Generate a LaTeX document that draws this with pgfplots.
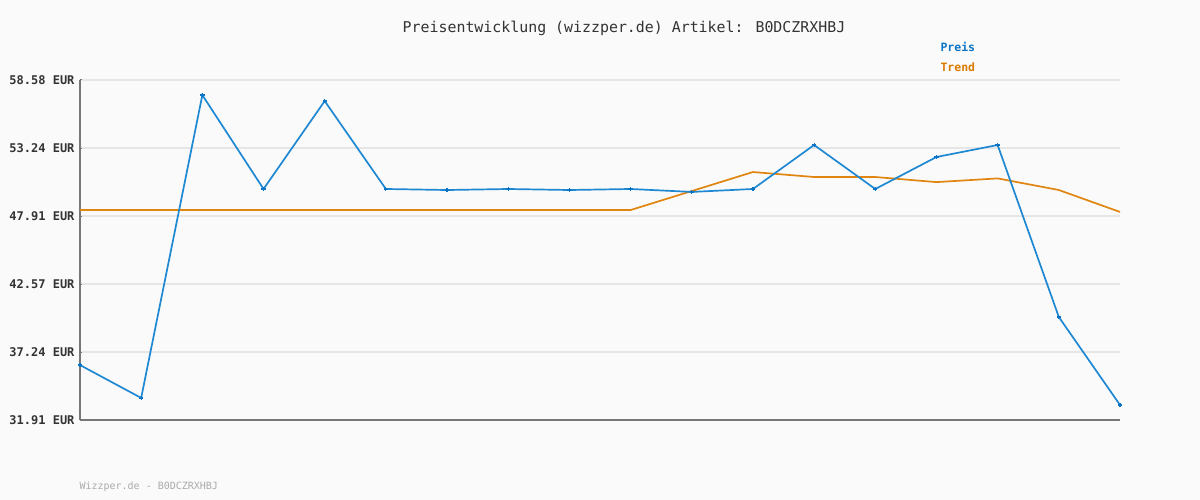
\documentclass[border=0pt]{standalone}
\usepackage{pgfplots}
\pgfplotsset{compat=1.18}
\usepackage{fontspec}
\setmainfont{DejaVu Sans Mono}
\definecolor{bg}{HTML}{FAFAFA}
\definecolor{gridc}{HTML}{E6E6E6}
\definecolor{axisc}{HTML}{777777}
\definecolor{preis}{HTML}{1E88D2}
\definecolor{trend}{HTML}{E0850F}
\definecolor{preisleg}{HTML}{0B74C4}
\definecolor{trendleg}{HTML}{DB7A00}
\definecolor{txt}{HTML}{333333}
\definecolor{foot}{HTML}{AAAAAA}
\begin{document}
\begin{tikzpicture}[x=1pt,y=1pt]
\fill[bg] (0,0) rectangle (1200,500);
\node[font=\fontsize{14.9}{17}\selectfont, text=txt] at (624,472) {Preisentwicklung (wizzper.de) Artikel: B0DCZRXHBJ};
\node[font=\fontsize{11.5}{13}\selectfont\bfseries, text=preisleg, anchor=west] at (937,453) {Preis};
\node[font=\fontsize{11.5}{13}\selectfont\bfseries, text=trendleg, anchor=west] at (937,433) {Trend};
\node[font=\fontsize{10}{12}\selectfont, text=foot, anchor=west] at (76,13) {Wizzper.de - B0DCZRXHBJ};
\begin{axis}[
  at={(80pt,80pt)}, anchor=south west,
  scale only axis, width=1040pt, height=340pt,
  xmin=0, xmax=17, ymin=31.91, ymax=58.58,
  axis x line*=bottom, axis y line*=left,
  axis line style={draw=axisc, line width=1.6pt, -},
  xtick=\empty,
  ytick={31.91,37.24,42.57,47.91,53.24,58.58},
  yticklabels={31.91 EUR,37.24 EUR,42.57 EUR,47.91 EUR,53.24 EUR,58.58 EUR},
  yticklabel style={font=\fontsize{12}{14}\selectfont\bfseries, text=txt, xshift=-2pt},
  ymajorgrids, grid style={draw=gridc, line width=1.6pt},
  major tick length=2pt, tick style={draw=axisc, line width=1pt},
  clip=false,
]
\addplot[trend, line width=1.7pt, no marks] coordinates {
(0,48.38)(1,48.38)(2,48.38)(3,48.38)(4,48.38)(5,48.38)(6,48.38)(7,48.38)(8,48.38)(9,48.38)
(10,49.87)(11,51.36)(12,50.97)(13,50.97)(14,50.57)(15,50.86)(16,49.95)(17,48.23)};
\addplot[preis, line width=1.7pt, mark=+, mark size=2.2pt, mark options={line width=1.2pt, draw=preisleg}] coordinates {
(0,36.22)(1,33.64)(2,57.40)(3,50.03)(4,56.93)(5,50.03)(6,49.95)(7,50.03)(8,49.95)(9,50.03)
(10,49.80)(11,50.03)(12,53.48)(13,50.03)(14,52.54)(15,53.48)(16,39.99)(17,33.09)};
\end{axis}
\end{tikzpicture}
\end{document}
